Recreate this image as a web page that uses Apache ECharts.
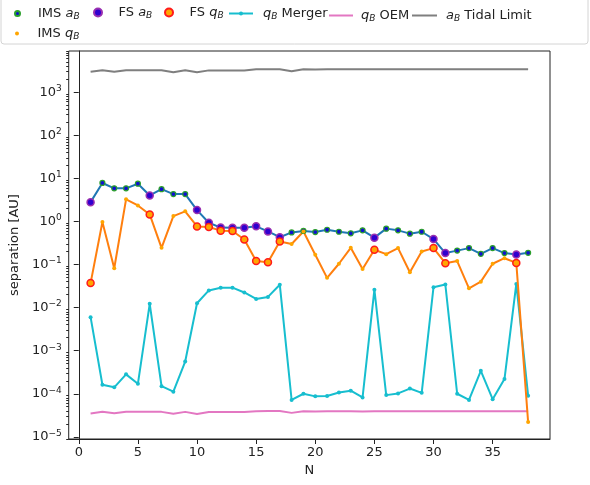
<!DOCTYPE html>
<html>
<head>
<meta charset="utf-8">
<title>separation</title>
<script src="https://cdn.jsdelivr.net/npm/echarts@6/dist/echarts.min.js"></script>
</head>
<body style="margin:0">
<div id="main" style="width:590px;height:485px;"></div>
<script type="text/javascript">
// values, index i -> N = i + 1
var aB = [2.8, 7.8, 5.85, 5.85, 7.5, 4.0, 5.6, 4.3, 4.3, 1.83, 0.93, 0.72, 0.71, 0.71, 0.77, 0.585, 0.43, 0.555, 0.6,
  0.565, 0.64, 0.575, 0.53, 0.62, 0.42, 0.68, 0.62, 0.52, 0.575, 0.39, 0.184, 0.21, 0.24, 0.177, 0.24, 0.184, 0.17, 0.187];
var qB = [0.037, 0.97, 0.082, 3.25, 2.35, 1.45, 0.244, 1.33, 1.71, 0.765, 0.74, 0.61, 0.6, 0.38, 0.12, 0.113, 0.34, 0.30, 0.585,
  0.168, 0.049, 0.104, 0.244, 0.079, 0.22, 0.174, 0.24, 0.066, 0.2, 0.24, 0.107, 0.12, 0.028, 0.04, 0.104, 0.14, 0.109, 2.2e-5];
var qMerger = [0.006, 1.62e-4, 1.41e-4, 2.82e-4, 1.7e-4, 0.0122, 1.5e-4, 1.12e-4, 5.6e-4, 0.0126, 0.025, 0.029, 0.029, 0.0224,
  0.0159, 0.0177, 0.034, 7.2e-5, 1.0e-4, 8.7e-5, 8.9e-5, 1.07e-4, 1.18e-4, 8.2e-5, 0.026, 9.3e-5, 1.02e-4, 1.32e-4, 1.05e-4,
  0.0297, 0.0343, 1.0e-4, 7.2e-5, 3.4e-4, 7.5e-5, 2.2e-4, 0.0355, 9.0e-5];
var qOEM = [3.5e-5, 3.8e-5, 3.55e-5, 3.8e-5, 3.8e-5, 3.8e-5, 3.8e-5, 3.45e-5, 3.8e-5, 3.4e-5, 3.75e-5, 3.75e-5, 3.75e-5, 3.75e-5,
  3.95e-5, 4.0e-5, 4.0e-5, 3.6e-5, 3.95e-5, 3.9e-5, 3.95e-5, 3.95e-5, 3.95e-5, 3.9e-5, 3.95e-5, 3.95e-5, 3.95e-5, 3.95e-5,
  3.95e-5, 3.95e-5, 3.95e-5, 3.95e-5, 3.95e-5, 3.95e-5, 3.95e-5, 3.95e-5, 3.95e-5, 3.95e-5];
var aTidal = [2960, 3240, 2960, 3240, 3240, 3240, 3240, 2900, 3240, 2880, 3200, 3200, 3200, 3200, 3400, 3400, 3400, 3050, 3400,
  3350, 3400, 3400, 3400, 3380, 3400, 3400, 3400, 3400, 3400, 3400, 3400, 3400, 3400, 3400, 3400, 3400, 3400, 3400];
// N of the FS points; the rest are IMS
var fsN = [1, 6, 10, 11, 12, 13, 14, 15, 16, 17, 25, 30, 31, 37];

var xTicks = [0, 5, 10, 15, 20, 25, 30, 35];
var yTicks = [1e-5, 1e-4, 1e-3, 1e-2, 1e-1, 1, 10, 100, 1000];
var yMinor = [];
for (var e = -6; e <= 3; e++) {
  for (var k = 2; k <= 9; k++) yMinor.push(k * Math.pow(10, e));
}

function pairs(arr) {
  return arr.map(function (v, i) { return [i + 1, v]; });
}
function pick(arr, fs) {
  var out = [];
  arr.forEach(function (v, i) {
    var isFs = fsN.indexOf(i + 1) >= 0;
    if (isFs === fs) out.push([i + 1, v]);
  });
  return out;
}

var FONT = 'DejaVu Sans';
var txt = {
  'IMS aB': '{t|IMS }{i|a}{s|B}',
  'FS aB': '{t|FS }{i|a}{s|B}',
  'FS qB': '{t|FS }{i|q}{s|B}',
  'qB Merger': '{i|q}{s|B}{t| Merger}',
  'qB OEM': '{i|q}{s|B}{t| OEM}',
  'aB Tidal Limit': '{i|a}{s|B}{t| Tidal Limit}',
  'IMS qB': '{t|IMS }{i|q}{s|B}'
};
var rich = {
  t: { fontFamily: FONT, fontSize: 13, color: '#222' },
  i: { fontFamily: FONT, fontSize: 13, fontStyle: 'italic', color: '#222' },
  s: { fontFamily: FONT, fontSize: 9, fontStyle: 'italic', color: '#222', padding: [6, 0, 0, 0] }
};

// legend entries, one component each so they sit where matplotlib put them
var legendItems = [
  { name: 'IMS aB', left: 14, top: 7, w: 31, h: 5, pad: 0 },
  { name: 'FS aB', left: 93, top: 6, w: 31, h: 8, pad: 0 },
  { name: 'FS qB', left: 164, top: 6, w: 31, h: 8, pad: 0 },
  { name: 'qB Merger', left: 228, top: 7, w: 24, h: 5, pad: 5 },
  { name: 'qB OEM', left: 329, top: 9, w: 24, h: 2, pad: 3, icon: 'rect' },
  { name: 'aB Tidal Limit', left: 412, top: 9, w: 25, h: 2, pad: 4, icon: 'rect' },
  { name: 'IMS qB', left: 15, top: 27, w: 31, h: 4, pad: 0 }
];

var myChart = echarts.init(document.getElementById('main'));
myChart.setOption({
  animation: false,
  backgroundColor: '#fff',
  textStyle: { fontFamily: FONT },
  graphic: [{
    type: 'rect', z: -10,
    shape: { x: 1, y: -8, width: 587, height: 52, r: 3 },
    style: { fill: '#fff', stroke: '#d4d4d4', lineWidth: 1 }
  }],
  legend: legendItems.map(function (it) {
    var item = { name: it.name };
    if (it.icon) item.icon = it.icon;
    return {
      data: [item], left: it.left, top: it.top, padding: 0,
      itemWidth: it.w, itemHeight: it.h, selectedMode: false,
      formatter: function (n) { return txt[n]; },
      textStyle: { rich: rich, padding: [0, 0, 0, it.pad] }
    };
  }),
  grid: { left: 67, right: 40, top: 51, bottom: 46, show: true, borderColor: '#222', borderWidth: 1 },
  xAxis: {
    type: 'value', min: -0.85, max: 39.85,
    name: 'N', nameLocation: 'middle', nameGap: 21,
    nameTextStyle: { fontFamily: FONT, fontSize: 13, color: '#222' },
    axisLine: { onZero: false, lineStyle: { color: '#222', width: 1 } },
    axisTick: { customValues: xTicks, length: 5, lineStyle: { color: '#222' } },
    axisLabel: { customValues: xTicks, margin: 7, fontFamily: FONT, fontSize: 13, color: '#222' },
    splitLine: { show: false }
  },
  yAxis: [{
    type: 'log', logBase: 10, position: 'left',
    min: Math.pow(10, -5.05), max: Math.pow(10, 3.955),
    name: 'separation [AU]', nameLocation: 'middle', nameGap: 46,
    nameTextStyle: { fontFamily: FONT, fontSize: 13, color: '#222' },
    axisLine: { show: true, lineStyle: { color: '#222', width: 1 } },
    axisTick: { customValues: yTicks, length: 5, lineStyle: { color: '#222' } },
    axisLabel: {
      customValues: yTicks, margin: 7,
      formatter: function (v) {
        var p = Math.round(Math.log10(v));
        return '{b|10}{e|' + (p < 0 ? '\u2212' + (-p) : p) + '}';
      },
      rich: {
        b: { fontFamily: FONT, fontSize: 13, color: '#222' },
        e: { fontFamily: FONT, fontSize: 9, color: '#222', padding: [0, 0, 7, 0] }
      }
    },
    splitLine: { show: false }
  }, {
    type: 'log', logBase: 10, position: 'left',
    min: Math.pow(10, -5.05), max: Math.pow(10, 3.955),
    axisLine: { show: false },
    axisTick: { customValues: yMinor, length: 2.5, lineStyle: { color: '#222' } },
    axisLabel: { show: false },
    splitLine: { show: false }
  }],
  series: [
    {
      name: 'aB Tidal Limit', type: 'line', data: pairs(aTidal), symbol: 'none',
      lineStyle: { color: '#7f7f7f', width: 2 }, itemStyle: { color: '#7f7f7f' }, z: 2
    },
    {
      name: 'qB OEM', type: 'line', data: pairs(qOEM), symbol: 'none',
      lineStyle: { color: '#e377c2', width: 2 }, itemStyle: { color: '#e377c2' }, z: 2
    },
    {
      name: 'qB Merger', type: 'line', data: pairs(qMerger), symbol: 'circle', symbolSize: 4,
      lineStyle: { color: '#17becf', width: 2 }, itemStyle: { color: '#17becf' }, z: 2
    },
    {
      name: 'aB', type: 'line', data: pairs(aB), symbol: 'none',
      lineStyle: { color: '#1f77b4', width: 2 }, z: 3
    },
    {
      name: 'qB', type: 'line', data: pairs(qB), symbol: 'none',
      lineStyle: { color: '#ff7f0e', width: 2 }, z: 3
    },
    {
      name: 'IMS aB', type: 'scatter', data: pick(aB, false), symbolSize: 5,
      itemStyle: { color: '#1010d0', borderColor: '#2ca02c', borderWidth: 1.2, opacity: 1 }, z: 4
    },
    {
      name: 'IMS qB', type: 'scatter', data: pick(qB, false), symbolSize: 4,
      itemStyle: { color: '#ffa500', opacity: 1 }, z: 4
    },
    {
      name: 'FS aB', type: 'scatter', data: pick(aB, true), symbolSize: 7,
      itemStyle: { color: '#3000d0', borderColor: '#9a30b0', borderWidth: 1.5, opacity: 1 }, z: 5
    },
    {
      name: 'FS qB', type: 'scatter', data: pick(qB, true), symbolSize: 7,
      itemStyle: { color: '#ffa500', borderColor: '#ff1a1a', borderWidth: 1.5, opacity: 1 }, z: 5
    }
  ]
});
</script>
</body>
</html>
